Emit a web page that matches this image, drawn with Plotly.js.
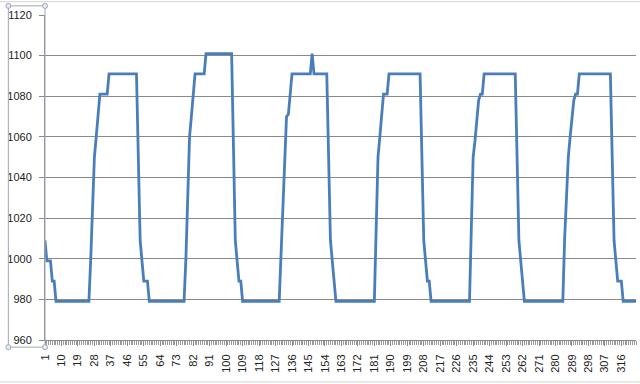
<!DOCTYPE html>
<html>
<head>
<meta charset="utf-8">
<script src="https://cdn.plot.ly/plotly-3.0.1.min.js"></script>
<style>
html,body{margin:0;padding:0;background:#fff;}
#chart{width:640px;height:384px;}
</style>
</head>
<body>
<div id="chart"></div>
<script>
// Series values, one per category (1..324)
const values = [
  1009, 999, 999, 999, 989, 989, 979, 979, 979, 979,
  979, 979, 979, 979, 979, 979, 979, 979, 979, 979,
  979, 979, 979, 979, 979, 1000, 1025, 1050, 1060, 1070,
  1081, 1081, 1081, 1081, 1081, 1091, 1091, 1091, 1091, 1091,
  1091, 1091, 1091, 1091, 1091, 1091, 1091, 1091, 1091, 1091,
  1091, 1050, 1009, 999, 989, 989, 989, 979, 979, 979,
  979, 979, 979, 979, 979, 979, 979, 979, 979, 979,
  979, 979, 979, 979, 979, 979, 979, 1000, 1030, 1060,
  1070, 1081, 1091, 1091, 1091, 1091, 1091, 1091, 1101, 1101,
  1101, 1101, 1101, 1101, 1101, 1101, 1101, 1101, 1101, 1101,
  1101, 1101, 1101, 1055, 1009, 999, 989, 989, 979, 979,
  979, 979, 979, 979, 979, 979, 979, 979, 979, 979,
  979, 979, 979, 979, 979, 979, 979, 979, 979, 1002,
  1025, 1048, 1070, 1071, 1081, 1091, 1091, 1091, 1091, 1091,
  1091, 1091, 1091, 1091, 1091, 1091, 1101, 1091, 1091, 1091,
  1091, 1091, 1091, 1091, 1091, 1050, 1009, 999, 989, 979,
  979, 979, 979, 979, 979, 979, 979, 979, 979, 979,
  979, 979, 979, 979, 979, 979, 979, 979, 979, 979,
  979, 1015, 1050, 1060, 1070, 1081, 1081, 1081, 1091, 1091,
  1091, 1091, 1091, 1091, 1091, 1091, 1091, 1091, 1091, 1091,
  1091, 1091, 1091, 1091, 1091, 1091, 1050, 1009, 999, 989,
  989, 979, 979, 979, 979, 979, 979, 979, 979, 979,
  979, 979, 979, 979, 979, 979, 979, 979, 979, 979,
  979, 979, 979, 1015, 1050, 1058, 1068, 1078, 1081, 1081,
  1091, 1091, 1091, 1091, 1091, 1091, 1091, 1091, 1091, 1091,
  1091, 1091, 1091, 1091, 1091, 1091, 1091, 1091, 1050, 1009,
  999, 989, 979, 979, 979, 979, 979, 979, 979, 979,
  979, 979, 979, 979, 979, 979, 979, 979, 979, 979,
  979, 979, 979, 979, 1010, 1035, 1050, 1060, 1070, 1078,
  1081, 1081, 1091, 1091, 1091, 1091, 1091, 1091, 1091, 1091,
  1091, 1091, 1091, 1091, 1091, 1091, 1091, 1091, 1091, 1091,
  1050, 1009, 999, 989, 989, 989, 979, 979, 979, 979,
  979, 979, 979, 979
];

// Categories 1..N
const categories = values.map((v, i) => i + 1);

// Category tick labels shown on the axis
const xTickLabels = ["1","10","19","28","37","46","55","64","73","82","91","100",
  "109","118","127","136","145","154","163","172","181","190","199","208","217",
  "226","235","244","253","262","271","280","289","298","307","316"];

// Value axis ticks
const yTicks = [960, 980, 1000, 1020, 1040, 1060, 1080, 1100, 1120];

const trace = {
  x: categories,
  y: values,
  type: 'scatter',
  mode: 'lines',
  line: {color: '#4a7ebb', width: 2.8},
  hoverinfo: 'skip'
};

const gray = '#8a8a8a';
const font = {family: 'Liberation Sans, Arial, sans-serif', size: 11, color: '#222'};

// selection box helpers (paper coords)
const selL = -0.062, selR = 0, selT = 1.028, selB = -0.022;
function handle(xp, yp) {
  return {type: 'circle', xref: 'paper', yref: 'paper', xsizemode: 'pixel', ysizemode: 'pixel',
    xanchor: xp, yanchor: yp, x0: -2.5, x1: 2.5, y0: -2.5, y1: 2.5,
    line: {color: '#9aa8b8', width: 1}, fillcolor: '#e8edf3'};
}

const layout = {
  width: 640, height: 384,
  margin: {l: 45, r: 4, t: 15, b: 44},
  paper_bgcolor: '#fff', plot_bgcolor: '#fff',
  showlegend: false,
  font: font,
  xaxis: {
    range: [1, categories.length],
    tickmode: 'array',
    tickvals: xTickLabels.map(Number),
    ticktext: xTickLabels,
    tickangle: -90,
    ticks: 'outside', ticklen: 5, tickcolor: gray,
    ticklabelstandoff: 4,
    minor: {dtick: 1, tick0: 1, ticks: 'outside', ticklen: 4, tickcolor: '#9a9a9a', showgrid: false},
    showgrid: false, zeroline: false,
    showline: true, linecolor: gray, linewidth: 1,
    tickfont: font,
    fixedrange: true
  },
  yaxis: {
    range: [960, 1120],
    tickmode: 'array',
    tickvals: yTicks,
    ticktext: yTicks.map(String),
    ticks: 'outside', ticklen: 5, tickcolor: gray,
    ticklabelstandoff: 5,
    showgrid: true, gridcolor: gray, gridwidth: 1,
    zeroline: false,
    showline: true, linecolor: gray, linewidth: 1,
    tickfont: font,
    fixedrange: true
  },
  shapes: [
    // chart area border (top and bottom edges)
    {type: 'line', xref: 'paper', yref: 'paper', x0: -0.08, x1: 1.01, y0: 1.041, y1: 1.041,
      line: {color: '#d4d4d4', width: 1}},
    {type: 'line', xref: 'paper', yref: 'paper', x0: -0.08, x1: 1.01, y0: -0.129, y1: -0.129,
      line: {color: '#d4d4d4', width: 1}},
    // selection box around the value axis
    {type: 'rect', xref: 'paper', yref: 'paper', x0: selL, x1: selR, y0: selB, y1: selT,
      line: {color: '#a0a8b4', width: 1}, fillcolor: 'rgba(0,0,0,0)'},
    handle(selL, selT), handle(selR, selT), handle(selL, selB), handle(selR, selB)
  ]
};

Plotly.newPlot('chart', [trace], layout, {staticPlot: true, displayModeBar: false});
</script>
</body>
</html>
